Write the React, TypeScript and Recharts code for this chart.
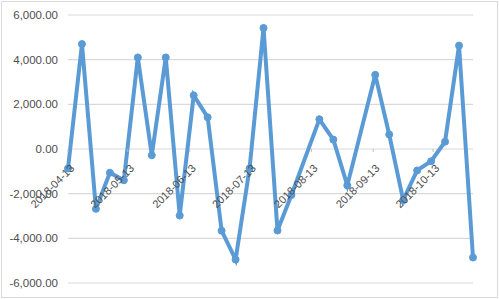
import { LineChart, Line, XAxis, YAxis, CartesianGrid } from 'recharts'

const dates = [
  '2018-04-13', '2018-04-20', '2018-04-27', '2018-05-04', '2018-05-11', '2018-05-18', '2018-05-25',
  '2018-06-01', '2018-06-08', '2018-06-15', '2018-06-22', '2018-06-29', '2018-07-06', '2018-07-13',
  '2018-07-20', '2018-07-27', '2018-08-03', '2018-08-17', '2018-08-24', '2018-08-31', '2018-09-14',
  '2018-09-21', '2018-09-28', '2018-10-05', '2018-10-12', '2018-10-19', '2018-10-26', '2018-11-02',
]
const values = [
  -870, 4700, -2680, -1060, -1400, 4100, -280, 4100, -2980, 2400, 1420, -3660, -4950, -870,
  5420, -3650, -2060, 1330, 420, -1630, 3320, 650, -2290, -960, -550, 330, 4630, -4860,
]
const xTickLabels = ['2018-04-13', '2018-05-13', '2018-06-13', '2018-07-13', '2018-08-13', '2018-09-13', '2018-10-13']
const yTicks = [-6000, -4000, -2000, 0, 2000, 4000, 6000]

const toTime = (d: string) => new Date(d).getTime()
const data = dates.map((d, i) => ({ t: toTime(d), v: values[i] }))

const W = 499
const H = 299
const margin = { top: 15, right: 26, bottom: 15, left: 0 }
const Y_W = 68
const plotH = H - margin.top - margin.bottom - 1
const zeroY = margin.top + plotH / 2
const font = "'Liberation Sans', Arial, sans-serif"

const fmt = (v: number) => v.toLocaleString('en-US', { minimumFractionDigits: 2, maximumFractionDigits: 2 })
const fmtDate = (t: number) => new Date(t).toISOString().slice(0, 10)

function DateTick({ x, payload }: any) {
  return (
    <g>
      <line x1={x} y1={zeroY} x2={x} y2={zeroY + 3} stroke="#BFBFBF" />
      <text
        transform={`translate(${x + 7},${zeroY + 20}) rotate(-45)`}
        textAnchor="end"
        fontSize={11}
        fill="#4D4D4D"
        fontFamily={font}
      >
        {fmtDate(payload.value)}
      </text>
    </g>
  )
}

export default function App() {
  return (
    <div style={{ position: 'absolute', left: 0, top: 0, width: W, height: H, background: '#fff' }}>
      <div style={{ position: 'absolute', left: 1, top: 1, width: W - 4, height: H - 4, border: '1px solid #D9D9D9' }} />
      <LineChart width={W} height={H} data={data} margin={margin}>
        <CartesianGrid vertical={false} stroke="#D9D9D9" strokeWidth={1.2} />
        <XAxis
          dataKey="t"
          type="number"
          scale="time"
          domain={[toTime(dates[0]), toTime(dates[dates.length - 1])]}
          ticks={xTickLabels.map(toTime)}
          tick={<DateTick />}
          tickLine={false}
          axisLine={false}
          height={1}
          interval={0}
        />
        <YAxis
          width={Y_W}
          domain={[-6000, 6000]}
          ticks={yTicks}
          tickFormatter={fmt}
          tickLine={false}
          axisLine={false}
          tickSize={0}
          tickMargin={10}
          interval={0}
          tick={{ fontSize: 11.5, fill: '#4D4D4D', fontFamily: font }}
        />
        <Line
          dataKey="v"
          stroke="#5B9BD5"
          strokeWidth={4}
          dot={{ r: 3.5, fill: '#5B9BD5', stroke: '#5B9BD5', strokeWidth: 1 }}
          isAnimationActive={false}
        />
      </LineChart>
    </div>
  )
}
